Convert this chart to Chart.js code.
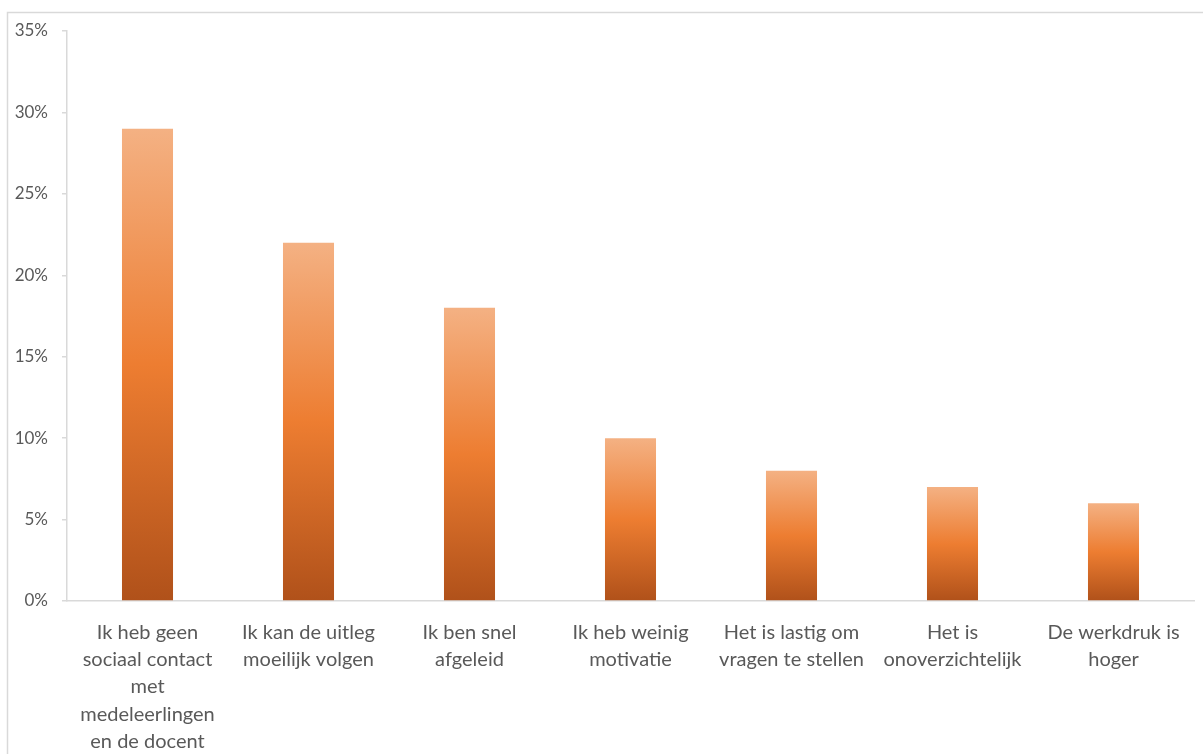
<!DOCTYPE html>
<html>
<head>
<meta charset="utf-8">
<script src="https://cdn.jsdelivr.net/npm/chart.js@4"></script>
<style>
  html, body { margin: 0; padding: 0; background: #ffffff; }
  #wrap { width: 1203px; height: 754px; position: relative; }
</style>
</head>
<body>
<div id="wrap"><canvas id="c" width="1203" height="754"></canvas></div>
<script>
// Categories (answers) and the share of respondents per answer, in percent
const categories = [
  ["Ik heb geen", "sociaal contact", "met", "medeleerlingen", "en de docent"],
  ["Ik kan de uitleg", "moeilijk volgen"],
  ["Ik ben snel", "afgeleid"],
  ["Ik heb weinig", "motivatie"],
  ["Het is lastig om", "vragen te stellen"],
  ["Het is", "onoverzichtelijk"],
  ["De werkdruk is", "hoger"]
];
const percentages = [29, 22, 18, 10, 8, 7, 6];
const yTicks = [0, 5, 10, 15, 20, 25, 30, 35];

const FONT = "Lato, 'Open Sans', sans-serif";
const TEXT = "#595959";
const LINE = "#D9D9D9";

// Vertical gradient per bar: light at top, accent orange in middle, dark at base
function barGradient(ctx) {
  const chart = ctx.chart;
  if (!chart.chartArea || ctx.dataIndex === undefined) return "#ED7D31";
  const y = chart.scales.y;
  const v = ctx.dataset.data[ctx.dataIndex];
  const top = y.getPixelForValue(v);
  const base = y.getPixelForValue(0);
  const g = chart.ctx.createLinearGradient(0, top, 0, base);
  g.addColorStop(0, "#F4B183");
  g.addColorStop(0.5, "#ED7D31");
  g.addColorStop(1, "#B0511A");
  return g;
}

// Light frame along the top and left edges
const framePlugin = {
  id: "frame",
  beforeDraw(chart) {
    const c = chart.ctx;
    c.save();
    c.strokeStyle = LINE;
    c.lineWidth = 1.5;
    c.beginPath();
    c.moveTo(7.5, 754);
    c.lineTo(7.5, 12.5);
    c.lineTo(1203, 12.5);
    c.stroke();
    c.restore();
  }
};

new Chart(document.getElementById("c"), {
  type: "bar",
  data: {
    labels: categories,
    datasets: [{
      data: percentages,
      backgroundColor: barGradient,
      borderWidth: 0,
      categoryPercentage: 1,
      barPercentage: 0.317
    }]
  },
  options: {
    responsive: false,
    animation: false,
    layout: { padding: { left: 7, top: 31, right: 9, bottom: 0 } },
    plugins: {
      legend: { display: false },
      tooltip: { enabled: false }
    },
    scales: {
      x: {
        grid: { display: false },
        border: { display: true, color: LINE, width: 1.5 },
        ticks: {
          color: TEXT,
          font: { family: FONT, size: 20, lineHeight: 1.36 },
          padding: 10,
          maxRotation: 0,
          autoSkip: false
        },
        afterFit(scale) { scale.height = 153; }
      },
      y: {
        min: 0,
        max: 35,
        afterBuildTicks(scale) { scale.ticks = yTicks.map(v => ({ value: v })); },
        grid: {
          display: true,
          drawOnChartArea: false,
          drawTicks: true,
          tickLength: 5,
          color: LINE,
          lineWidth: 1.5
        },
        border: { display: true, color: LINE, width: 1.5 },
        ticks: {
          color: TEXT,
          font: { family: FONT, size: 17 },
          padding: 14,
          callback: v => v + "%"
        },
        afterFit(scale) { scale.width = 60; }
      }
    }
  },
  plugins: [framePlugin]
});
</script>
</body>
</html>
